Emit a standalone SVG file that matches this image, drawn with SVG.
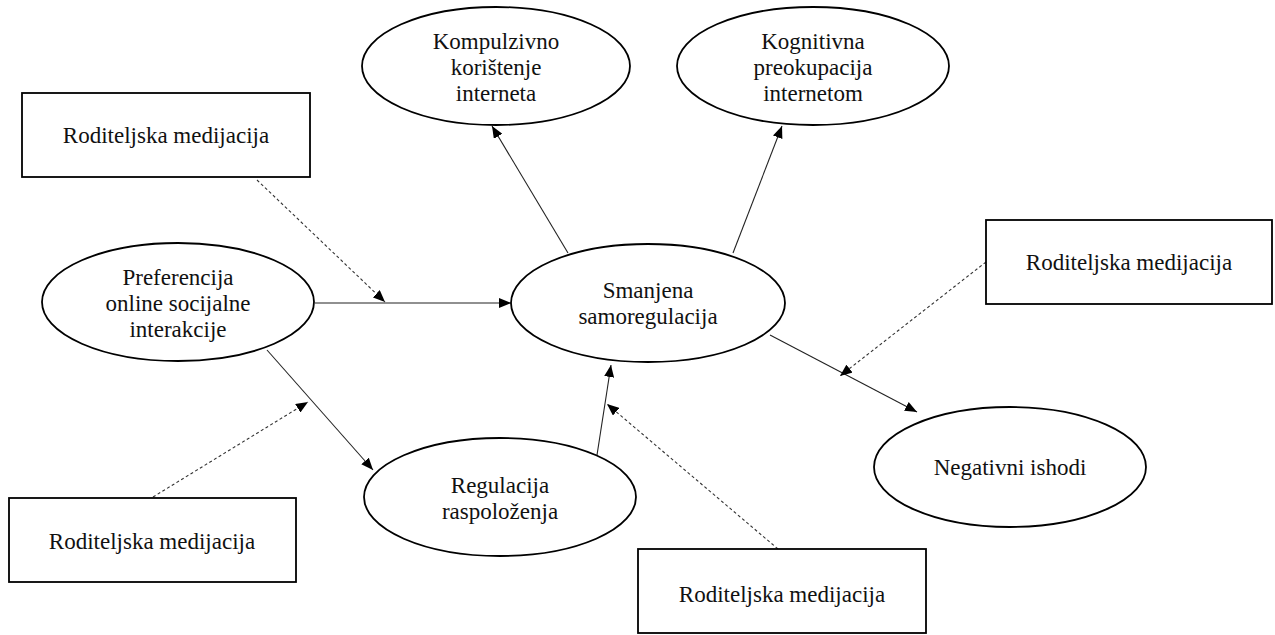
<svg xmlns="http://www.w3.org/2000/svg" width="1275" height="635" viewBox="0 0 1275 635">
<style>
.n{fill:#fff;stroke:#000;stroke-width:1.8}
.t{font-family:"Liberation Serif",serif;font-size:23px;fill:#111;text-anchor:middle;dominant-baseline:central}
.s{stroke:#222;stroke-width:1.1;fill:none}
.d{stroke:#333;stroke-width:1.1;fill:none;stroke-dasharray:3,2.5}
</style>
<defs>
<marker id="ah" viewBox="0 0 12 10" refX="12" refY="5" markerWidth="12" markerHeight="10" markerUnits="userSpaceOnUse" orient="auto">
<path d="M0,0 L12,5 L0,10 Z" fill="#000"/>
</marker>
</defs>
<rect width="1275" height="635" fill="#fff"/>
<g id="connectors">
<line class="s" x1="315" y1="303" x2="511" y2="303" marker-end="url(#ah)"/>
<line class="d" x1="257" y1="180" x2="385" y2="302" marker-end="url(#ah)"/>
<line class="s" x1="568" y1="253" x2="492" y2="126" marker-end="url(#ah)"/>
<line class="s" x1="733" y1="253" x2="782" y2="126" marker-end="url(#ah)"/>
<line class="s" x1="267" y1="350" x2="373" y2="470" marker-end="url(#ah)"/>
<line class="d" x1="153" y1="497" x2="308" y2="402" marker-end="url(#ah)"/>
<line class="s" x1="597" y1="455" x2="611" y2="365" marker-end="url(#ah)"/>
<line class="d" x1="778" y1="549" x2="607" y2="404" marker-end="url(#ah)"/>
<line class="s" x1="770" y1="335" x2="917" y2="412" marker-end="url(#ah)"/>
<line class="d" x1="986" y1="262" x2="840" y2="376" marker-end="url(#ah)"/>
</g>
<g id="box-top-left">
<rect class="n" x="22" y="93" width="288" height="84"/>
<text class="t" x="166" y="135">Roditeljska medijacija</text>
</g>
<g id="kompulzivno">
<ellipse class="n" cx="496" cy="66" rx="134" ry="59"/>
<text class="t" x="496" y="41">Kompulzivno</text>
<text class="t" x="496" y="67">korištenje</text>
<text class="t" x="496" y="93">interneta</text>
</g>
<g id="kognitivna">
<ellipse class="n" cx="813" cy="66" rx="136" ry="59"/>
<text class="t" x="813" y="41">Kognitivna</text>
<text class="t" x="813" y="67">preokupacija</text>
<text class="t" x="813" y="93">internetom</text>
</g>
<g id="preferencija">
<ellipse class="n" cx="178" cy="302" rx="136" ry="59"/>
<text class="t" x="178" y="277">Preferencija</text>
<text class="t" x="178" y="303">online socijalne</text>
<text class="t" x="178" y="329">interakcije</text>
</g>
<g id="smanjena">
<ellipse class="n" cx="648" cy="303" rx="137" ry="59"/>
<text class="t" x="648" y="290">Smanjena</text>
<text class="t" x="648" y="316">samoregulacija</text>
</g>
<g id="box-right">
<rect class="n" x="986" y="220" width="286" height="84"/>
<text class="t" x="1129" y="262">Roditeljska medijacija</text>
</g>
<g id="regulacija">
<ellipse class="n" cx="500" cy="497" rx="136" ry="59"/>
<text class="t" x="500" y="485">Regulacija</text>
<text class="t" x="500" y="511">raspoloženja</text>
</g>
<g id="negativni">
<ellipse class="n" cx="1010" cy="467" rx="136" ry="60"/>
<text class="t" x="1010" y="467">Negativni ishodi</text>
</g>
<g id="box-bottom-left">
<rect class="n" x="9" y="498" width="287" height="84"/>
<text class="t" x="152" y="541">Roditeljska medijacija</text>
</g>
<g id="box-bottom">
<rect class="n" x="638" y="549" width="288" height="84"/>
<text class="t" x="782" y="594">Roditeljska medijacija</text>
</g>
</svg>
